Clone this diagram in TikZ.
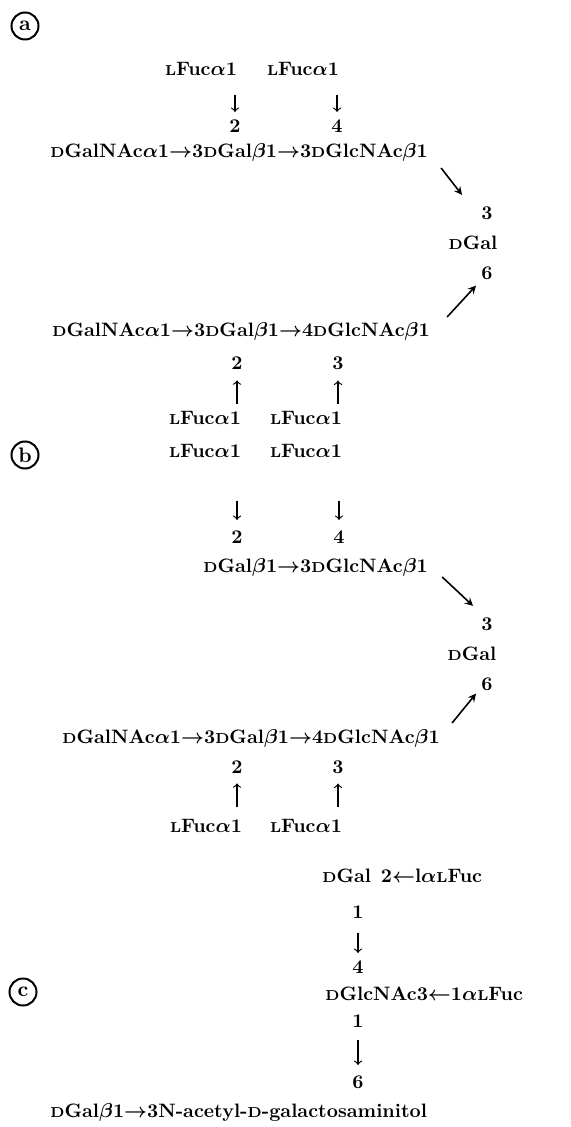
\documentclass[tikz,border=0pt]{standalone}
\usepackage{amsmath}
\usepackage{amssymb}
\usepackage{tikz}
\usetikzlibrary{calc}

% small capital D and L
\newcommand{\sD}{{\fontsize{7.2pt}{8pt}\selectfont D}}
\newcommand{\sL}{{\fontsize{7.2pt}{8pt}\selectfont L}}

\begin{document}
\begin{tikzpicture}[>=stealth, x=0.5pt, y=-0.5pt,
  every node/.style={inner sep=0pt, font=\fontsize{9.7pt}{11pt}\selectfont\bfseries\boldmath},
  sugar/.style={anchor=base},
  seq/.style={anchor=base west},
  tag/.style={circle, draw, line width=1pt, minimum size=13.5pt, font=\fontsize{10.5pt}{11pt}\selectfont\bfseries},
  bond/.style 2 args={-to, line width=0.6pt, shorten <=#1, shorten >=#2},
  link/.style={->, line width=0.8pt}]
\useasboundingbox (0,0) rectangle (570,1127);

% (a)
\node[tag] (la) at (25,26) {a};
\node[sugar] (fa1) at (201,76) {\sL Fuc$\alpha$1};
\node[sugar] (fa2) at (303,76) {\sL Fuc$\alpha$1};
\node[sugar] (pa1) at (235,133) {2};
\node[sugar] (pa2) at (337,133) {4};
\node[seq] (ca1) at (50,158) {\sD GalNAc$\alpha$1$\rightarrow$3\sD Gal$\beta$1$\rightarrow$3\sD GlcNAc$\beta$1};
\node[sugar] (ta) at (487,220) {3};
\node[sugar] (ga) at (473,250) {\sD Gal};
\node[sugar] (sa) at (487,280) {6};
\node[seq] (ca2) at (52,337) {\sD GalNAc$\alpha$1$\rightarrow$3\sD Gal$\beta$1$\rightarrow$4\sD GlcNAc$\beta$1};
\node[sugar] (pa3) at (237,370) {2};
\node[sugar] (pa4) at (338,370) {3};
\node[sugar] (fa3) at (205,425) {\sL Fuc$\alpha$1};
\node[sugar] (fa4) at (306,425) {\sL Fuc$\alpha$1};
\draw[bond={9pt}{4pt}] (pa1 |- fa1.south) -- (pa1);
\draw[bond={9pt}{4pt}] (pa2 |- fa2.south) -- (pa2);
\draw[bond={3.5pt}{5pt}] (pa3 |- fa3.north) -- (pa3);
\draw[bond={3.5pt}{5pt}] (pa4 |- fa4.north) -- (pa4);
\draw[link] ([shift={(13,15)}]ca1.east) -- ([shift={(-25,-12)}]ta.north);
\draw[link] ([shift={(17,-15)}]ca2.east) -- ([shift={(-11,5)}]sa.south);

% (b)
\node[tag] (lb) at (25,455) {b};
\node[sugar] (fb1) at (205,458) {\sL Fuc$\alpha$1};
\node[sugar] (fb2) at (306,458) {\sL Fuc$\alpha$1};
\node[sugar] (pb1) at (237,543) {2};
\node[sugar] (pb2) at (339,543) {4};
\node[seq] (cb1) at (203,572) {\sD Gal$\beta$1$\rightarrow$3\sD GlcNAc$\beta$1};
\node[sugar] (tb) at (487,630) {3};
\node[sugar] (gb) at (472,660) {\sD Gal};
\node[sugar] (sb) at (487,690) {6};
\node[seq] (cb2) at (62,743) {\sD GalNAc$\alpha$1$\rightarrow$3\sD Gal$\beta$1$\rightarrow$4\sD GlcNAc$\beta$1};
\node[sugar] (pb3) at (237,773) {2};
\node[sugar] (pb4) at (338,773) {3};
\node[sugar] (fb3) at (206,832) {\sL Fuc$\alpha$1};
\node[sugar] (fb4) at (306,832) {\sL Fuc$\alpha$1};
\draw[bond={21pt}{5pt}] (pb1 |- fb1.south) -- (pb1);
\draw[bond={21pt}{5pt}] (pb2 |- fb2.south) -- (pb2);
\draw[bond={5.5pt}{5pt}] (pb3 |- fb3.north) -- (pb3);
\draw[bond={5.5pt}{5pt}] (pb4 |- fb4.north) -- (pb4);
\draw[link] ([shift={(14,10)}]cb1.east) -- ([shift={(-14,-11)}]tb.north);
\draw[link] ([shift={(12,-15)}]cb2.east) -- ([shift={(-11,3)}]sb.south);

% (c)
\node[tag] (lc) at (23,992) {c};
\node[seq] (cc1) at (322,882) {\sD Gal\enspace2$\leftarrow$l$\alpha$\sL Fuc};
\node[sugar] (pc1) at (358,918) {1};
\node[sugar] (pc2) at (358,973) {4};
\node[seq] (cc2) at (325,1000) {\sD GlcNAc3$\leftarrow$1$\alpha$\sL Fuc};
\node[sugar] (pc3) at (358,1027) {1};
\node[sugar] (pc4) at (358,1088) {6};
\node[seq] (cc3) at (50,1117) {\sD Gal$\beta$1$\rightarrow$3N-acetyl-\sD-galactosaminitol};
\draw[bond={7.5pt}{3.5pt}] (pc1) -- (pc2);
\draw[bond={6.5pt}{5pt}] (pc3) -- (pc4);
\end{tikzpicture}
\end{document}
